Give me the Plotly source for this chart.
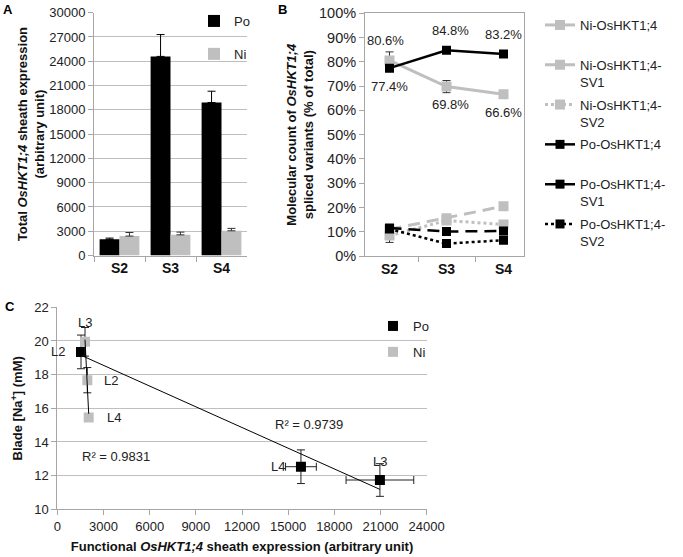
import numpy as np
import plotly.graph_objects as go

# ---------------- data ----------------
stages = ["S2", "S3", "S4"]
total_po = [2000, 24600, 18900]
total_po_err = [150, 2700, 1400]
total_ni = [2400, 2550, 3050]
total_ni_err = [440, 340, 300]

ni_main = [80.6, 69.8, 66.6]
ni_main_err = [3.5, 2.5, 0.0]
ni_sv1 = [11.0, 15.6, 20.5]
ni_sv2 = [8.4, 14.6, 13.0]
ni_sv2_err = [2.8, 0.0, 0.0]
po_main = [77.4, 84.8, 83.2]
po_sv1 = [11.5, 10.1, 10.3]
po_sv2 = [11.1, 5.1, 6.5]

lines_po = ["L2", "L4", "L3"]
po_expr = [1540, 15830, 20960]
po_expr_err = [0, 1000, 2200]
po_na = [19.35, 12.53, 11.74]
po_na_err = [1.0, 1.0, 0.97]
lines_ni = ["L3", "L2", "L4"]
ni_expr = [1800, 1950, 2040]
ni_expr_err = [0, 150, 0]
ni_na = [19.95, 17.67, 15.46]
ni_na_err = [0.85, 0.75, 0.0]
r2_po = 0.9739
r2_ni = 0.9831

# ---------------- style ----------------
W, H = 683, 557
BLACK = "#000000"
GRAY = "#bfbfbf"
AXC = "#a6a6a6"
GRID = "#bfbfbf"
FONT = "Liberation Sans, Arial, sans-serif"


def px_x(v):
    return v / W


def px_y(v):
    return 1 - v / H


fig = go.Figure()

# ---------------- panel A ----------------
fig.add_trace(go.Bar(
    x=stages, y=total_po, name="Po", marker_color=BLACK, marker_line_width=0,
    error_y=dict(type="data", array=total_po_err, arrayminus=[0] * 3, symmetric=False,
                 color=BLACK, thickness=1, width=4),
    xaxis="x", yaxis="y", legend="legend", legendgroup="a_po"))
fig.add_trace(go.Bar(
    x=stages, y=total_ni, name="Ni", marker_color=GRAY, marker_line_width=0,
    error_y=dict(type="data", array=total_ni_err, arrayminus=[0] * 3, symmetric=False,
                 color="#333333", thickness=1, width=4),
    xaxis="x", yaxis="y", legend="legend", legendgroup="a_ni"))

# ---------------- panel B ----------------
series_b = [
    ("Ni-OsHKT1;4<br> ", ni_main, ni_main_err, GRAY, "solid", 3, 10),
    ("Ni-OsHKT1;4-<br>SV1", ni_sv1, None, GRAY, "12px,7px", 3, 10),
    ("Ni-OsHKT1;4-<br>SV2", ni_sv2, ni_sv2_err, GRAY, "dot", 3, 10),
    ("Po-OsHKT1;4<br> ", po_main, None, BLACK, "solid", 2.5, 9),
    ("Po-OsHKT1;4-<br>SV1", po_sv1, None, BLACK, "12px,7px", 2.5, 9),
    ("Po-OsHKT1;4-<br>SV2", po_sv2, None, BLACK, "dot", 2.5, 9),
]
for i, (name, vals, err, col, dash, lw, ms) in enumerate(series_b):
    kw = {}
    if err is not None:
        kw["error_y"] = dict(type="data", array=err, color="#333333", thickness=1, width=4)
    fig.add_trace(go.Scatter(
        x=stages, y=vals, name=name, mode="lines+markers",
        line=dict(color=col, width=lw, dash=dash),
        marker=dict(symbol="square", size=ms, color=col),
        xaxis="x2", yaxis="y2", legend="legend2", legendgroup=f"b{i}", **kw))

# value labels for the main variants
xs_shift = [-4, 4, 0]
for i, s in enumerate(stages):
    hi = max(ni_main[i], po_main[i])
    lo = min(ni_main[i], po_main[i])
    fig.add_annotation(x=s, y=hi, xref="x2", yref="y2", text=f"{hi:.1f}%",
                       showarrow=False, yshift=20, xshift=xs_shift[i],
                       font=dict(size=13, color="#222"))
    fig.add_annotation(x=s, y=lo, xref="x2", yref="y2", text=f"{lo:.1f}%",
                       showarrow=False, yshift=-18, xshift=xs_shift[i] if i else 0,
                       font=dict(size=13, color="#222"))

# ---------------- panel C ----------------
fig.add_trace(go.Scatter(
    x=po_expr, y=po_na, name="Po", mode="markers",
    marker=dict(symbol="square", size=10, color=BLACK),
    error_x=dict(type="data", array=po_expr_err, color="#222", thickness=1, width=4),
    error_y=dict(type="data", array=po_na_err, color="#222", thickness=1, width=4),
    xaxis="x3", yaxis="y3", legend="legend3", legendgroup="c_po"))
fig.add_trace(go.Scatter(
    x=ni_expr, y=ni_na, name="Ni", mode="markers",
    marker=dict(symbol="square", size=10, color=GRAY),
    error_x=dict(type="data", array=ni_expr_err, color="#222", thickness=1, width=4),
    error_y=dict(type="data", array=ni_na_err, color="#222", thickness=1, width=4),
    xaxis="x3", yaxis="y3", legend="legend3", legendgroup="c_ni"))

# linear trend lines
for xs, ys in ((po_expr, po_na), (ni_expr, ni_na)):
    k, b = np.polyfit(xs, ys, 1)
    xl = np.array([min(xs), max(xs)])
    fig.add_trace(go.Scatter(x=xl, y=k * xl + b, mode="lines",
                             line=dict(color=BLACK, width=1), showlegend=False,
                             hoverinfo="skip", xaxis="x3", yaxis="y3"))

# point labels
pos_po = [("right", -14, 0), ("right", -14, 0), ("center", 0, 19)]
pos_ni = [("center", 0, 19), ("left", 15, 0), ("left", 16, 0)]
for labels, xs, ys, pos in ((lines_po, po_expr, po_na, pos_po), (lines_ni, ni_expr, ni_na, pos_ni)):
    for lab, xv, yv, (anc, dx, dy) in zip(labels, xs, ys, pos):
        fig.add_annotation(x=xv, y=yv, xref="x3", yref="y3", text=lab, showarrow=False,
                           xanchor=anc, xshift=dx, yshift=dy, font=dict(size=13, color="#222"))

fig.add_annotation(x=16350, y=15.05, xref="x3", yref="y3", text=f"R² = {r2_po:.4f}",
                   showarrow=False, font=dict(size=13, color="#222"))
fig.add_annotation(x=3800, y=13.16, xref="x3", yref="y3", text=f"R² = {r2_ni:.4f}",
                   showarrow=False, font=dict(size=13, color="#222"))

# panel letters
for letter, xp, yp in (("A", 8, 10), ("B", 282, 10), ("C", 10, 306)):
    fig.add_annotation(x=px_x(xp), y=px_y(yp), xref="paper", yref="paper", text=letter,
                       showarrow=False, xanchor="center", yanchor="middle",
                       font=dict(size=13, color=BLACK, weight="bold"))

# ---------------- axes ----------------
tickf = dict(size=13, color="#222")
boldf = dict(size=14, color="#111", weight="bold")
titlef = dict(size=13, color="#111", weight="bold")

common_line = dict(showline=True, linecolor=AXC, linewidth=1, ticks="outside",
                   tickcolor=AXC, ticklen=5, automargin=False, zeroline=False)

fig.update_layout(
    xaxis=dict(domain=[px_x(94), px_x(247)], anchor="y", type="category",
               tickson="boundaries", tickfont=boldf, showgrid=False, **common_line),
    yaxis=dict(domain=[px_y(255.5), px_y(12.7)], anchor="x", range=[0, 30000], dtick=3000,
               tickformat="d", showgrid=True, gridcolor=GRID, tickfont=tickf,
               title=dict(text="Total <i>OsHKT1;4</i> sheath expression<br>(arbitrary unit)",
                          font=titlef, standoff=1), **common_line),
    xaxis2=dict(domain=[px_x(365), px_x(524)], anchor="y2", type="category",
                tickson="boundaries", tickfont=boldf, showgrid=False, mirror=True, **common_line),
    yaxis2=dict(domain=[px_y(256), px_y(13.3)], anchor="x2", range=[0, 100], dtick=10,
                ticksuffix="%", showgrid=False, mirror=True, tickfont=dict(size=14.5, color="#222"),
                title=dict(text="Molecular count of <i>OsHKT1;4</i><br>spliced variants (% of total)",
                           font=titlef, standoff=2), **common_line),
    xaxis3=dict(domain=[px_x(57.3), px_x(426.7)], anchor="y3", range=[0, 24000], dtick=3000,
                tickformat="d", showgrid=False, tickfont=tickf,
                title=dict(text="Functional <i>OsHKT1;4</i> sheath expression (arbitrary unit)",
                           font=titlef, standoff=8), **common_line),
    yaxis3=dict(domain=[px_y(509.3), px_y(307.3)], anchor="x3", range=[10, 22], dtick=2,
                showgrid=True, gridcolor=GRID, tickfont=tickf,
                title=dict(text="Blade [Na<sup>+</sup>] (mM)", font=titlef, standoff=8),
                **common_line),
)

fig.update_layout(
    width=W, height=H, margin=dict(l=0, r=0, t=0, b=0),
    paper_bgcolor="white", plot_bgcolor="white",
    font=dict(family=FONT, size=13, color="#222"),
    barmode="group", bargap=0.22, bargroupgap=0,
    legend=dict(x=px_x(194), y=px_y(6), xanchor="left", yanchor="top",
                traceorder="grouped", tracegroupgap=13, bgcolor="rgba(0,0,0,0)",
                font=dict(size=13)),
    legend2=dict(x=px_x(540), y=px_y(10), xanchor="left", yanchor="top",
                 traceorder="grouped", tracegroupgap=3, valign="top",
                 bgcolor="rgba(0,0,0,0)", font=dict(size=13)),
    legend3=dict(x=px_x(373), y=px_y(311), xanchor="left", yanchor="top",
                 traceorder="grouped", tracegroupgap=6, bgcolor="rgba(0,0,0,0)",
                 font=dict(size=13)),
)

fig.write_html(
    "out.html",
    config={"displayModeBar": False},
    post_script="document.body.style.margin='0';document.body.style.overflow='hidden';",
)
